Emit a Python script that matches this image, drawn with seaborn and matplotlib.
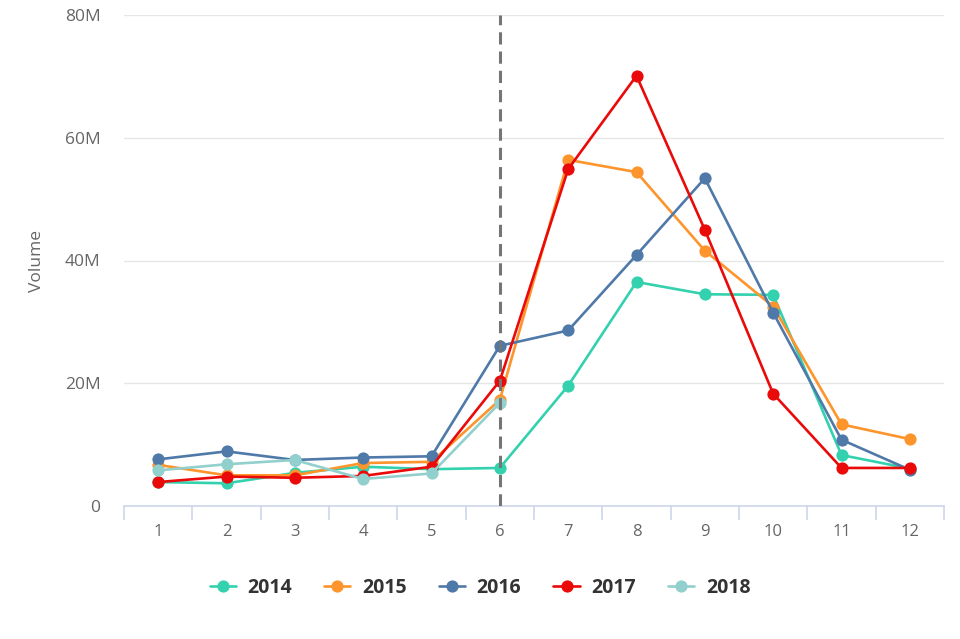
import numpy as np
import pandas as pd
import matplotlib
matplotlib.use("Agg")
import matplotlib.pyplot as plt
import seaborn as sns
from matplotlib.ticker import FuncFormatter, FixedLocator

months = [str(m) for m in range(1, 13)]

# volumes in millions
v2014 = [3.9, 3.7, 5.4, 6.4, 6.0, 6.2, 19.6, 36.5, 34.5, 34.4, 8.3, 6.1]
v2015 = [6.7, 5.0, 5.0, 7.0, 7.2, 17.3, 56.4, 54.4, 41.6, 32.5, 13.3, 10.9]
v2016 = [7.6, 8.9, 7.5, 7.9, 8.1, 26.1, 28.6, 40.9, 53.4, 31.5, 10.8, 5.9]
v2017 = [3.9, 4.8, 4.6, 4.9, 6.4, 20.4, 54.9, 70.1, 45.0, 18.3, 6.2, 6.2]
v2018 = [5.8, 6.8, 7.5, 4.4, 5.3, 16.8]

series = {"2014": v2014, "2015": v2015, "2016": v2016, "2017": v2017, "2018": v2018}
colors = {"2014": "#33d1ad", "2015": "#fd942c", "2016": "#4f79a8",
          "2017": "#ea0a0a", "2018": "#92d0cd"}

rows = []
for year, vals in series.items():
    for i, v in enumerate(vals):
        rows.append({"month": i, "volume": v * 1e6, "year": year})
df = pd.DataFrame(rows)

sns.set_style("white")
plt.rcParams['font.family'] = ['Open Sans', 'DejaVu Sans']

fig = plt.figure(figsize=(9.6, 6.39), dpi=100)
ax = fig.add_axes([124 / 960, 1 - 506 / 639, 820 / 960, 491 / 639])

sns.lineplot(data=df, x="month", y="volume", hue="year", palette=colors,
             marker="o", markersize=8.8, markeredgewidth=0, linewidth=1.9,
             ax=ax, legend=True, zorder=3)

ax.axvline(5, color="#757575", linestyle=(0, (4, 2.3)), linewidth=2.2, zorder=5)

ax.set_xlim(-0.5, 11.5)
ax.set_ylim(0, 80e6)
ax.set_yticks([0, 20e6, 40e6, 60e6, 80e6])
ax.yaxis.set_major_formatter(FuncFormatter(lambda v, p: "0" if v == 0 else f"{int(v / 1e6)}M"))
ax.set_xticks(range(12))
ax.set_xticklabels(months)
ax.xaxis.set_minor_locator(FixedLocator(np.arange(-0.5, 12, 1)))

ax.grid(axis="y", color="#e6e6e6", linewidth=1)
ax.set_axisbelow(True)
for s in ["top", "right", "left"]:
    ax.spines[s].set_visible(False)
ax.spines["bottom"].set_color("#ccd6eb")
ax.spines["bottom"].set_linewidth(1.2)

ax.tick_params(axis="x", which="major", bottom=False, length=0, pad=13,
               labelsize=12, labelcolor="#666666")
ax.tick_params(axis="x", which="minor", bottom=True, length=10, width=1.2,
               color="#ccd6eb", direction="out")
ax.tick_params(axis="y", length=0, pad=17, labelsize=12.5, labelcolor="#666666")

ax.set_xlabel("")
ax.set_ylabel("Volume", fontsize=12.5, color="#666666", labelpad=14)

handles, labels = ax.get_legend_handles_labels()
ax.legend_.remove()
leg = fig.legend(handles, labels, loc="center", bbox_to_anchor=(0.5, 1 - 588 / 639),
                 ncol=5, frameon=False, handlelength=1.35, columnspacing=1.65,
                 handletextpad=0.6, prop={"weight": "bold", "size": 14})
for t in leg.get_texts():
    t.set_color("#333333")

fig.savefig("out.png", dpi=100)
